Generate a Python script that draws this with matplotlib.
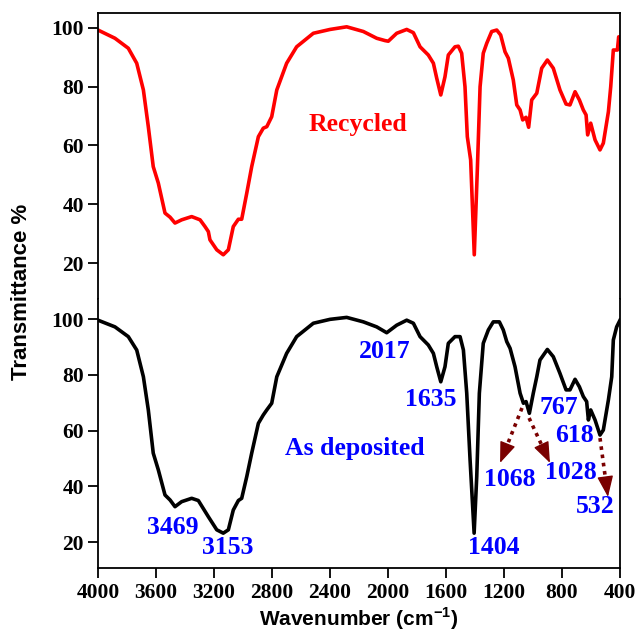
"""FTIR transmittance spectra: recycled vs as-deposited film."""

import matplotlib

matplotlib.use("Agg")
import matplotlib.pyplot as plt

# recycled film (top panel)
wn_recycled = [4000, 3883, 3791, 3733, 3687, 3653, 3619, 3584, 3538, 3503,
               3469, 3423, 3354, 3296, 3262, 3239, 3228, 3181, 3136, 3101,
               3067, 3032, 3009, 2974, 2940, 2894, 2860, 2836, 2802, 2767,
               2699, 2630, 2515, 2400, 2285, 2170, 2078, 2020, 1998, 1940,
               1871, 1825, 1779, 1722, 1687, 1664, 1636, 1607, 1584, 1538,
               1515, 1492, 1469, 1453, 1430, 1405, 1384, 1365, 1343, 1319,
               1285, 1250, 1223, 1193, 1170, 1136, 1112, 1089, 1071, 1048,
               1030, 1009, 974, 940, 901, 860, 814, 772, 745, 710,
               680, 653, 634, 623, 602, 572, 538, 515, 480, 464,
               446, 418, 409, 400]
t_recycled = [99.3, 96.5, 93.1, 88.0, 78.9, 66.4, 52.8, 47.2, 37.0, 35.6,
              33.6, 34.7, 35.8, 34.7, 32.4, 30.7, 27.9, 24.5, 22.8, 24.5,
              32.4, 34.9, 34.9, 43.8, 52.8, 63.0, 65.9, 66.4, 69.8, 78.9,
              88.0, 93.6, 98.2, 99.5, 100.4, 98.8, 96.5, 95.7, 95.5, 98.2,
              99.5, 98.4, 93.6, 90.8, 88.0, 82.9, 77.2, 83.4, 90.8, 93.6,
              93.8, 91.4, 80.0, 63.0, 55.1, 22.8, 51.7, 80.0, 91.4, 94.8,
              98.8, 99.3, 97.6, 91.9, 89.7, 82.3, 73.8, 72.1, 68.7, 69.6,
              66.2, 75.5, 77.8, 86.3, 89.1, 86.3, 78.9, 74.1, 73.8, 78.3,
              75.5, 72.1, 70.4, 63.6, 67.6, 61.9, 58.5, 60.8, 71.5, 80.0,
              92.5, 92.5, 97.0, 94.5]

# as-deposited film (bottom panel)
wn_deposited = [4000, 3883, 3791, 3733, 3687, 3653, 3619, 3584, 3538, 3503,
                3469, 3423, 3354, 3308, 3239, 3181, 3136, 3101, 3067, 3032,
                3009, 2974, 2940, 2894, 2860, 2836, 2802, 2767, 2699, 2630,
                2515, 2400, 2285, 2170, 2078, 2009, 1940, 1871, 1825, 1779,
                1722, 1687, 1664, 1636, 1607, 1584, 1538, 1503, 1480, 1457,
                1434, 1406, 1388, 1370, 1343, 1308, 1274, 1232, 1205, 1181,
                1158, 1124, 1089, 1066, 1048, 1025, 998, 974, 952, 901,
                860, 814, 772, 745, 710, 680, 653, 630, 618, 602,
                572, 538, 515, 480, 457, 446, 423, 400]
t_deposited = [99.6, 97.2, 93.7, 88.9, 79.3, 67.4, 51.9, 45.9, 36.9, 35.1,
               32.7, 34.5, 35.7, 34.9, 29.1, 24.4, 23.2, 24.4, 31.5, 34.9,
               35.7, 43.5, 51.9, 62.6, 65.6, 67.4, 69.8, 79.3, 87.7, 93.7,
               98.5, 99.9, 100.6, 99.0, 97.2, 95.1, 97.8, 99.6, 98.5, 93.7,
               90.7, 87.7, 82.9, 77.5, 82.9, 91.3, 93.7, 93.7, 88.9, 73.4,
               49.5, 23.2, 43.5, 73.4, 91.3, 96.1, 99.0, 99.0, 96.1, 91.9,
               89.5, 82.9, 73.4, 69.8, 70.4, 66.2, 73.4, 79.3, 85.3, 89.1,
               86.5, 80.5, 74.6, 74.6, 78.4, 75.7, 72.2, 70.4, 63.8, 67.4,
               63.8, 58.4, 60.2, 71.0, 79.3, 92.5, 97.2, 99.6]

# peak labels on the as-deposited spectrum (text centre in data coords)
peak_labels = ["3469", "3153", "2017", "1635", "1404", "767", "618", "1068", "1028", "532"]
peak_x = [3483, 3103, 2021, 1703, 1269, 820, 717, 1158, 738, 572]
peak_y = [25.4, 17.9, 88.2, 71.3, 17.9, 68.1, 58.1, 42.3, 44.8, 32.6]

# dotted arrows: start -> end (wavenumber, transmittance)
arrow_start_x = [1076, 1027, 538]
arrow_start_y = [68.1, 64.5, 57.3]
arrow_end_x = [1227, 883, 483]
arrow_end_y = [48.4, 48.4, 36.2]

x_ticks = [4000, 3600, 3200, 2800, 2400, 2000, 1600, 1200, 800, 400]
y_ticks = [20, 40, 60, 80, 100]

SERIF = "Liberation Serif"
SANS = "Liberation Sans"
ARROW_COLOR = "#7a0000"
TICK_SIZE = 15.5
NOTE_SIZE = 18.5


def _style_axis(ax, ylim):
    ax.set_xlim(4000, 400)
    ax.set_ylim(*ylim)
    ax.set_yticks(y_ticks)
    ax.tick_params(axis="y", direction="out", length=7, width=1.3, pad=3,
                   labelsize=TICK_SIZE, right=False)
    for lab in ax.get_yticklabels():
        lab.set_fontfamily(SERIF)
        lab.set_fontweight("bold")
    for spine in ax.spines.values():
        spine.set_linewidth(1.3)


def main():
    plt.rcParams.update({
        "mathtext.fontset": "custom",
        "mathtext.rm": "Liberation Sans:bold",
        "mathtext.bf": "Liberation Sans:bold",
    })
    fig = plt.figure(figsize=(6.38, 6.32), dpi=100)
    left, width = 98 / 638, 522 / 638
    ax_top = fig.add_axes([left, 1 - 299 / 632, width, 286 / 632])
    ax_bot = fig.add_axes([left, 1 - 568 / 632, width, 269 / 632])

    ax_top.plot(wn_recycled, t_recycled, color="#ff0000", linewidth=2.6,
                solid_joinstyle="round")
    ax_bot.plot(wn_deposited, t_deposited, color="black", linewidth=2.6,
                solid_joinstyle="round")

    _style_axis(ax_top, (7.75, 105.1))
    _style_axis(ax_bot, (10.7, 107.2))

    ax_top.spines["bottom"].set_visible(False)
    ax_top.tick_params(axis="x", bottom=False, labelbottom=False)
    ax_bot.spines["top"].set_visible(False)

    ax_bot.set_xticks(x_ticks)
    ax_bot.tick_params(axis="x", direction="out", length=7, width=1.3, pad=4,
                       labelsize=TICK_SIZE)
    for lab in ax_bot.get_xticklabels():
        lab.set_fontfamily(SERIF)
        lab.set_fontweight("bold")

    ax_top.text(2207, 67, "Recycled", color="#ff0000", fontsize=NOTE_SIZE,
                fontfamily=SERIF, fontweight="bold", ha="center", va="center")
    ax_bot.text(2228, 53.4, "As deposited", color="#0000ff", fontsize=NOTE_SIZE,
                fontfamily=SERIF, fontweight="bold", ha="center", va="center")

    for label, x, y in zip(peak_labels, peak_x, peak_y):
        ax_bot.text(x, y, label, color="#0000ff", fontsize=NOTE_SIZE,
                    fontfamily=SERIF, fontweight="bold", ha="center", va="center")

    for x0, y0, x1, y1 in zip(arrow_start_x, arrow_start_y, arrow_end_x, arrow_end_y):
        # dotted shaft, stopping short of the head
        fx = x0 + 0.72 * (x1 - x0)
        fy = y0 + 0.72 * (y1 - y0)
        ax_bot.plot([x0, fx], [y0, fy], color=ARROW_COLOR, linewidth=2.6,
                    linestyle=(0, (1, 1.3)), solid_capstyle="round")
        ax_bot.annotate("", xy=(x1, y1), xytext=(fx, fy),
                        arrowprops=dict(arrowstyle="-|>,head_length=1.3,head_width=0.5",
                                        color=ARROW_COLOR, linewidth=1.0,
                                        shrinkA=0, shrinkB=0))

    fig.text(22 / 638, 1 - 292 / 632, "Transmittance %", rotation=90,
             fontsize=16, fontfamily=SANS, fontweight="bold",
             ha="center", va="center")
    fig.text(359 / 638, 1 - 619 / 632, r"Wavenumber (cm$^{\mathbf{-1}}$)",
             fontsize=15, fontfamily=SANS, fontweight="bold",
             ha="center", va="center")

    fig.savefig("out.png", dpi=100)
    plt.close(fig)


if __name__ == "__main__":
    main()
